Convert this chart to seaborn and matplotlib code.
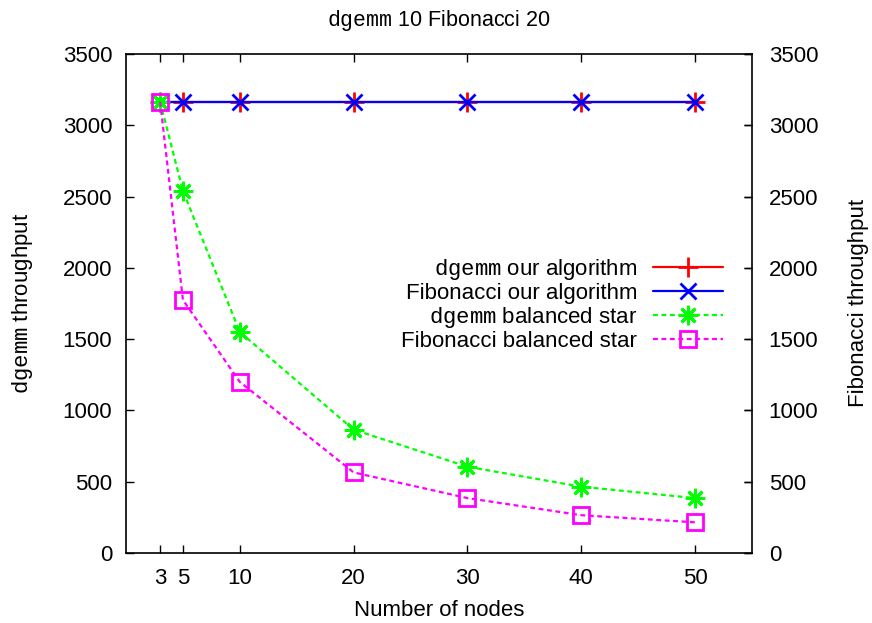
import matplotlib
matplotlib.use("Agg")
import matplotlib.pyplot as plt
import seaborn as sns
import pandas as pd

# Données
nodes = [3, 5, 10, 20, 30, 40, 50]
dgemm_ours = [3165, 3165, 3165, 3165, 3165, 3165, 3165]
fibo_ours = [3165, 3165, 3165, 3165, 3165, 3165, 3165]
dgemm_star = [3165, 2540, 1550, 865, 605, 465, 385]
fibo_star = [3165, 1775, 1200, 565, 385, 265, 215]

series_labels = [
    r"$\mathtt{dgemm}$ our algorithm",
    "Fibonacci our algorithm",
    r"$\mathtt{dgemm}$ balanced star",
    "Fibonacci balanced star",
]
yticks = [0, 500, 1000, 1500, 2000, 2500, 3000, 3500]

sns.set_style("ticks")
plt.rcParams['font.family'] = ['Liberation Sans', 'DejaVu Sans']
plt.rcParams['mathtext.fontset'] = 'custom'
plt.rcParams['mathtext.tt'] = 'Liberation Mono'
plt.rcParams['mathtext.rm'] = 'Liberation Sans'
plt.rcParams['font.size'] = 16
for k in ['text.color', 'axes.labelcolor', 'xtick.color', 'ytick.color']:
    plt.rcParams[k] = 'black'

df = pd.DataFrame({
    "nodes": nodes * 4,
    "throughput": dgemm_ours + fibo_ours + dgemm_star + fibo_star,
    "serie": sum([[lab] * len(nodes) for lab in series_labels], []),
})

fig = plt.figure(figsize=(8.72, 6.23), dpi=100)
ax = fig.add_axes([0.1445, 0.1124, 0.7179, 0.8009])

styles = [
    dict(color="#ff0000", marker="+", ls="-", ms=14),
    dict(color="#0000ff", marker="x", ls="-", ms=12),
    dict(color="#00ff00", marker=(8, 2, 0), ls=(0, (2.2, 1.6)), ms=14),
    dict(color="#ff00ff", marker="s", ls=(0, (2.2, 1.6)), ms=12),
]

for lab, st in zip(series_labels, styles):
    sub = df[df["serie"] == lab]
    sns.lineplot(data=sub, x="nodes", y="throughput", ax=ax, label=lab,
                 lw=1.6, color=st["color"], marker=st["marker"], ls=st["ls"],
                 mfc="none", mec=st["color"], ms=st["ms"], mew=2,
                 clip_on=False)

ax.set_xlim(0, 55)
ax.set_ylim(0, 3500)
ax.set_xticks(nodes)
ax.set_yticks(yticks)

# axe de droite (même échelle)
ax2 = ax.twinx()
ax2.set_ylim(0, 3500)
ax2.set_yticks(yticks)
ax2.tick_params(direction="in", length=6, width=1, pad=12)
for s in ax2.spines.values():
    s.set_visible(False)

ax.tick_params(direction="in", length=6, width=1, top=True, right=True,
               labelright=False)
ax.tick_params(axis="x", pad=11)
ax.tick_params(axis="y", pad=10)
for s in ax.spines.values():
    s.set_linewidth(1.2)
    s.set_color("black")

ax.set_xlabel("Number of nodes", labelpad=8)
ax.set_ylabel(r"$\mathtt{dgemm}$ throughput", labelpad=20)
fig.text(858 / 872, 1 - 303 / 623, "Fibonacci throughput", rotation=90,
         ha="center", va="center", fontsize=16)

ax.set_title(r"$\mathtt{dgemm}$ 10 Fibonacci 20", fontsize=15.5, pad=20)

leg = ax.legend(loc="upper right", bbox_to_anchor=(0.971, 0.616), frameon=False,
                markerfirst=False, handlelength=3.15, handletextpad=0.7,
                labelspacing=0.05, borderpad=0)
for t in leg.get_texts():
    t.set_ha("right")

fig.savefig("out.png", dpi=100, facecolor="white")
